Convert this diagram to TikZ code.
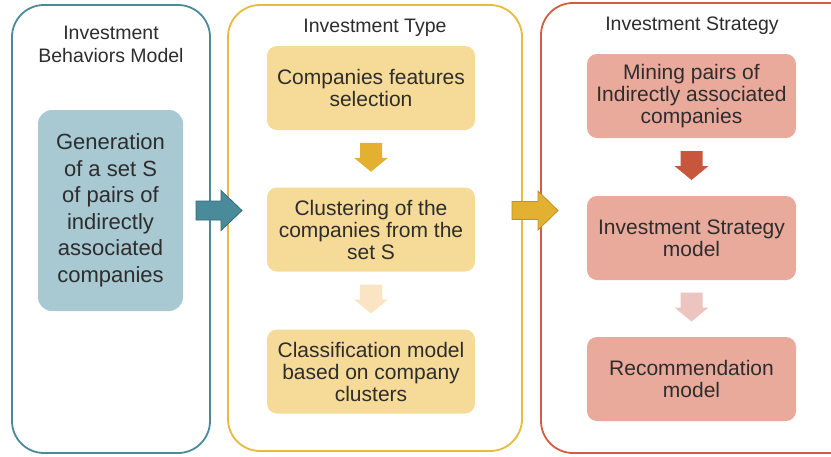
\documentclass[tikz,border=0pt]{standalone}
\usepackage{fontspec}
\setmainfont{Liberation Sans}
\usetikzlibrary{calc}
\definecolor{tealline}{RGB}{74,139,155}
\definecolor{tealfill}{RGB}{168,200,210}
\definecolor{tealdark}{RGB}{50,105,120}
\definecolor{goldline}{RGB}{232,186,62}
\definecolor{goldfill}{RGB}{246,219,152}
\definecolor{goldarrow}{RGB}{228,176,50}
\definecolor{goldlight}{RGB}{250,228,196}
\definecolor{golddark}{RGB}{190,145,35}
\definecolor{redline}{RGB}{212,92,66}
\definecolor{redfill}{RGB}{233,170,155}
\definecolor{redarrow}{RGB}{200,86,60}
\definecolor{redlight}{RGB}{236,196,192}
\definecolor{darktext}{RGB}{45,45,45}

% block arrow pointing down, centred between two boxes
\newcommand{\downblock}[3]{%
  \fill[#3] ($(#1.south)!0.5!(#2.north)+(0,-1.5)$)
    +(-11,-14.5) -- +(11,-14.5) -- +(11,0.5) -- +(17,0.5)
    -- +(0,14.5) -- +(-17,0.5) -- +(-11,0.5) -- cycle;}

\begin{document}
\begin{tikzpicture}[x=1pt,y=-1pt,
    frame/.style={draw, line width=1.8pt, fill=white, rounded corners=32pt,
      inner sep=0pt},
    title/.style={align=center, text=darktext, font=\fontsize{19.5}{23}\selectfont},
    tbox/.style={fill=tealfill, rounded corners=14pt, align=center, text=darktext,
      font=\fontsize{22}{26.5}\selectfont, minimum width=145pt, minimum height=201pt},
    ybox/.style={fill=goldfill, rounded corners=10pt, align=center, text=darktext,
      font=\fontsize{21}{22}\selectfont, minimum width=208pt, minimum height=84pt},
    rbox/.style={fill=redfill, rounded corners=10pt, align=center, text=darktext,
      font=\fontsize{21}{22}\selectfont, minimum width=209pt, minimum height=84pt}]

\useasboundingbox (0,0) rectangle (831,456);
\begin{scope}
\clip (0,0) rectangle (831,456);

%% -- three columns --
\node[frame, draw=tealline, minimum width=198pt, minimum height=448pt] (beh) at (111,229) {};
\node[frame, draw=goldline, minimum width=294pt, minimum height=446pt] (typ) at (375,228) {};
\node[frame, draw=redline, minimum width=320pt, minimum height=450pt] (str) at (701,228) {};

%% -- titles --
\node[title] (behT) at (111,44.5) {Investment\\Behaviors Model};
\node[title] (typT) at (375,28) {Investment Type};
\node[title] (strT) at (692,26) {Investment Strategy};

%% -- steps --
\node[tbox] (gen) at (110.5,210.5)
  {Generation\\of a set S\\of pairs of\\indirectly\\associated\\companies};

\node[ybox] (feat) at (371,88) {Companies features\\selection};
\node[ybox] (clus) at (371,229.5) {Clustering of the\\companies from the\\set S};
\node[ybox] (clas) at (371,371.5) {Classification model\\based on company\\clusters};

\node[rbox] (mine) at (691.5,96) {Mining pairs of\\Indirectly associated\\companies};
\node[rbox] (istr) at (691.5,238) {Investment Strategy\\model};
\node[rbox] (reco) at (691.5,379) {Recommendation\\model};

%% -- arrows inside the columns --
\downblock{feat}{clus}{goldarrow}
\downblock{clus}{clas}{goldlight}
\downblock{mine}{istr}{redarrow}
\downblock{istr}{reco}{redlight}

%% -- arrows between the columns --
\coordinate (m1) at ($(beh.east)!0.5!(typ.west)$);
\coordinate (m2) at ($(typ.east)!0.5!(str.west)$);
\filldraw[fill=tealline, draw=tealdark, line width=0.8pt] (m1 |- gen)
  +(-23,-9.5) -- +(2,-9.5) -- +(2,-20) -- +(23,0) -- +(2,20) -- +(2,9.5)
  -- +(-23,9.5) -- cycle;
\filldraw[fill=goldarrow, draw=golddark, line width=0.8pt] (m2 |- gen)
  +(-19.5,-9) -- +(6.5,-9) -- +(6.5,-19.5) -- +(26.5,0) -- +(6.5,19.5)
  -- +(6.5,9) -- +(-19.5,9) -- cycle;
\end{scope}
\end{tikzpicture}
\end{document}
